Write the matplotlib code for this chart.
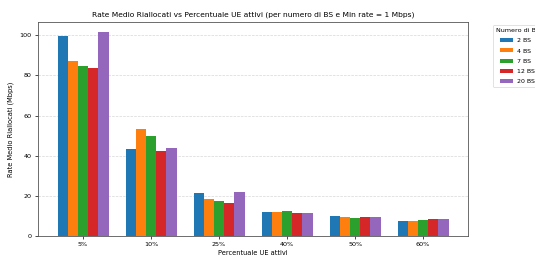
import matplotlib
matplotlib.use("Agg")
import matplotlib.pyplot as plt
import numpy as np

categories = ["5%", "10%", "25%", "40%", "50%", "60%"]
series_labels = ["2 BS", "4 BS", "7 BS", "12 BS", "20 BS"]
bs2 = [99.7, 43.5, 21.5, 12.0, 9.8, 7.5]
bs4 = [87.2, 53.3, 18.5, 11.8, 9.5, 7.7]
bs7 = [84.5, 50.0, 17.3, 12.5, 9.0, 8.0]
bs12 = [83.8, 42.3, 16.3, 11.5, 9.5, 8.3]
bs20 = [101.5, 44.0, 21.8, 11.3, 9.3, 8.3]
series = [bs2, bs4, bs7, bs12, bs20]
colors = ["#1f77b4", "#ff7f0e", "#2ca02c", "#d62728", "#9467bd"]

fig = plt.figure(figsize=(5.35, 2.56), dpi=100)
ax = fig.add_axes([0.071, 0.078, 0.804, 0.836])
x = np.arange(len(categories))
w = 0.15
for i, (vals, lab, c) in enumerate(zip(series, series_labels, colors)):
    ax.bar(x + (i - 2) * w, vals, w, label=lab, color=c)

ax.set_xticks(x)
ax.set_xticklabels(categories, fontsize=4.6)
ax.tick_params(axis='y', labelsize=4.6)
ax.tick_params(width=0.5, length=2.5, pad=2)
ax.set_xlabel("Percentuale UE attivi", fontsize=4.8, labelpad=2)
ax.set_ylabel("Rate Medio Riallocati (Mbps)", fontsize=4.8, labelpad=4)
ax.set_title("Rate Medio Riallocati vs Percentuale UE attivi (per numero di BS e Min rate = 1 Mbps)",
             fontsize=5.4, pad=4)
ax.grid(axis='y', linestyle='--', alpha=0.5, linewidth=0.5)
ax.set_axisbelow(True)
for s in ax.spines.values():
    s.set_linewidth(0.6)
    s.set_color("#555555")
leg = ax.legend(title="Numero di BS", bbox_to_anchor=(1.05, 1), loc="upper left",
                fontsize=4.5, title_fontsize=4.6, handlelength=2.0, handleheight=0.65,
                labelspacing=0.8, borderpad=0.45, handletextpad=0.7)
leg.get_frame().set_linewidth(0.5)
fig.savefig("out.png", dpi=100)
